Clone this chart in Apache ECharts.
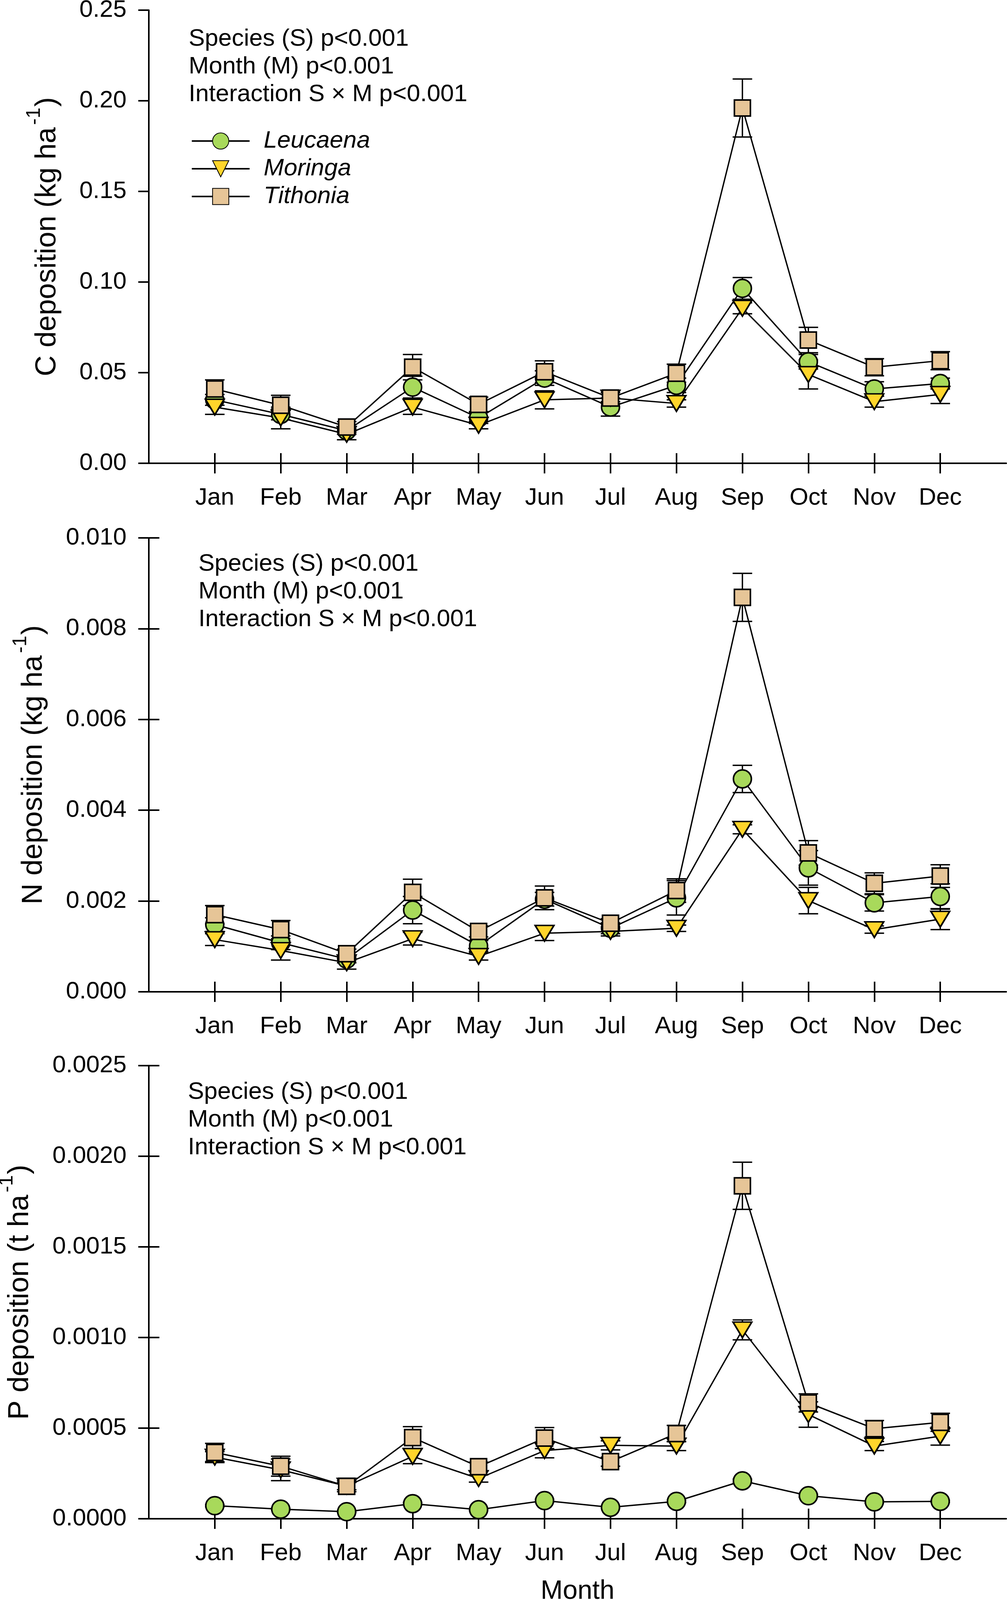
<!DOCTYPE html>
<html>
<head>
<meta charset="utf-8">
<script src="https://cdn.jsdelivr.net/npm/echarts@6/dist/echarts.min.js"></script>
<style>
html, body { margin: 0; padding: 0; background: #fff; }
#main { width: 2578px; height: 4124px; }
</style>
</head>
<body>
<div id="main"></div>
<script>
var months = ["Jan", "Feb", "Mar", "Apr", "May", "Jun", "Jul", "Aug", "Sep", "Oct", "Nov", "Dec"];
var speciesNames = ["Leucaena", "Moringa", "Tithonia"];
var notes = ["Species (S) p<0.001", "Month (M) p<0.001", "Interaction S \u00d7 M p<0.001"];

// C deposition (kg ha-1)
var cLeucaena   = [0.035, 0.027, 0.018, 0.042, 0.025, 0.047, 0.031, 0.043, 0.0965, 0.056, 0.041, 0.044];
var cLeucaenaSe = [0.003, 0.003, 0.002, 0.006, 0.003, 0.004, 0.005, 0.004, 0.006, 0.004, 0.004, 0.003];
var cMoringa    = [0.031, 0.025, 0.016, 0.031, 0.021, 0.035, 0.036, 0.033, 0.0855, 0.049, 0.034, 0.038];
var cMoringaSe  = [0.004, 0.006, 0.003, 0.004, 0.002, 0.005, 0.002, 0.002, 0.003, 0.008, 0.003, 0.005];
var cTithonia   = [0.041, 0.032, 0.020, 0.053, 0.0325, 0.0505, 0.036, 0.0497, 0.196, 0.068, 0.053, 0.0566];
var cTithoniaSe = [0.005, 0.0055, 0.003, 0.007, 0.004, 0.006, 0.003, 0.005, 0.016, 0.007, 0.0047, 0.005];

// N deposition (kg ha-1)
var nLeucaena   = [0.00148, 0.00108, 0.00072, 0.00180, 0.00101, 0.00204, 0.00140, 0.00207, 0.00469, 0.00273, 0.00196, 0.00210];
var nLeucaenaSe = [0.00015, 0.00015, 0.00008, 0.00030, 0.00012, 0.00015, 0.00012, 0.00038, 0.00030, 0.00038, 0.00018, 0.00028];
var nMoringa    = [0.00115, 0.00091, 0.00064, 0.00117, 0.00078, 0.00129, 0.00133, 0.00140, 0.00358, 0.00201, 0.00137, 0.00160];
var nMoringaSe  = [0.00013, 0.00021, 0.00014, 0.00014, 0.00008, 0.00016, 0.00010, 0.00007, 0.00010, 0.00029, 0.00008, 0.00023];
var nTithonia   = [0.00170, 0.00137, 0.00084, 0.00219, 0.00133, 0.00207, 0.00151, 0.00223, 0.00869, 0.00306, 0.00239, 0.00255];
var nTithoniaSe = [0.00020, 0.00020, 0.00010, 0.00029, 0.00012, 0.00026, 0.00010, 0.00026, 0.00053, 0.00027, 0.00023, 0.00025];

// P deposition (t ha-1)
var pLeucaena   = [0.000072, 0.000053, 0.000039, 0.000083, 0.000050, 0.000100, 0.000063, 0.000096, 0.000209, 0.000127, 0.000093, 0.000096];
var pLeucaenaSe = [0.000006, 0.000005, 0.000004, 0.000007, 0.000005, 0.000008, 0.000005, 0.000007, 0.000010, 0.000008, 0.000006, 0.000006];
var pMoringa    = [0.000340, 0.000270, 0.000180, 0.000344, 0.000222, 0.000376, 0.000405, 0.000401, 0.001042, 0.000575, 0.000401, 0.000456];
var pMoringaSe  = [0.000030, 0.000060, 0.000020, 0.000040, 0.000020, 0.000040, 0.000025, 0.000025, 0.000055, 0.000070, 0.000025, 0.000050];
var pTithonia   = [0.000366, 0.000290, 0.000179, 0.000448, 0.000287, 0.000445, 0.000315, 0.000470, 0.001837, 0.000639, 0.000497, 0.000532];
var pTithoniaSe = [0.000050, 0.000055, 0.000030, 0.000060, 0.000025, 0.000058, 0.000025, 0.000045, 0.000130, 0.000050, 0.000045, 0.000050];

var FONT = "'Liberation Sans', Arial, sans-serif";
var BLACK = "#000";

// one empty slot on each side of the months, like the original x range 0..13
var cats = [" "].concat(months).concat(["  "]);
function isMonth(i) { return i > 0 && i < cats.length - 1; }

var styles = [
  { symbol: "circle",   size: 46,       rotate: 0,   color: "#a8d95b" },
  { symbol: "triangle", size: [48, 40], rotate: 180, color: "#ffd52b" },
  { symbol: "rect",     size: 41,       rotate: 0,   color: "#e6c597" }
];

var panels = [
  { name: "{a|C deposition (kg ha}{s|-1}{a|)}", max: 0.25, interval: 0.05, dec: 2,
    top: 26, height: 1160, nameGap: 222, innerTicks: false, note: [483, 64],
    means: [cLeucaena, cMoringa, cTithonia], ses: [cLeucaenaSe, cMoringaSe, cTithoniaSe] },
  { name: "{a|N deposition (kg ha}{s|-1}{a|)}", max: 0.010, interval: 0.002, dec: 3,
    top: 1377, height: 1162, nameGap: 257, innerTicks: true, note: [508, 1408],
    means: [nLeucaena, nMoringa, nTithonia], ses: [nLeucaenaSe, nMoringaSe, nTithoniaSe] },
  { name: "{a|P deposition (t ha}{s|-1}{a|)}", max: 0.0025, interval: 0.0005, dec: 4,
    top: 2728, height: 1160, nameGap: 292, innerTicks: true, note: [481, 2760],
    means: [pLeucaena, pMoringa, pTithonia], ses: [pLeucaenaSe, pMoringaSe, pTithoniaSe] }
];

function errorBars(params, api) {
  var x = api.value(0), m = api.value(1), se = api.value(2);
  var hi = api.coord([x, m + se]);
  var lo = api.coord([x, m - se]);
  var hw = 25;
  var st = { stroke: BLACK, lineWidth: 3.5 };
  return {
    type: "group",
    children: [
      { type: "line", shape: { x1: hi[0], y1: hi[1], x2: lo[0], y2: lo[1] }, style: st },
      { type: "line", shape: { x1: hi[0] - hw, y1: hi[1], x2: hi[0] + hw, y2: hi[1] }, style: st },
      { type: "line", shape: { x1: lo[0] - hw, y1: lo[1], x2: lo[0] + hw, y2: lo[1] }, style: st }
    ]
  };
}

var grids = [], xAxes = [], yAxes = [], series = [], titles = [];

panels.forEach(function (p, gi) {
  grids.push({ left: 381, right: 2, top: p.top, height: p.height, outerBoundsMode: "none", containLabel: false });

  var xMain = xAxes.length;
  xAxes.push({
    gridIndex: gi, type: "category", position: "bottom", data: cats, boundaryGap: false,
    axisLine: { lineStyle: { color: BLACK, width: 4 } },
    axisTick: { length: 26, interval: isMonth, lineStyle: { color: BLACK, width: 4 } },
    axisLabel: { interval: isMonth, margin: 58, fontSize: 62, color: BLACK, fontFamily: FONT },
    splitLine: { show: false },
    name: gi === 2 ? "Month" : "", nameLocation: "middle", nameGap: 152,
    nameTextStyle: { fontSize: 68, color: BLACK, fontFamily: FONT }
  });
  // second x axis only for the ticks that cross into the plot
  xAxes.push({
    gridIndex: gi, type: "category", position: "bottom", data: cats, boundaryGap: false,
    axisLine: { show: false },
    axisTick: { inside: true, length: 26, interval: isMonth, lineStyle: { color: BLACK, width: 4 } },
    axisLabel: { show: false }, splitLine: { show: false }
  });

  var yMain = yAxes.length;
  yAxes.push({
    gridIndex: gi, type: "value", position: "left", min: 0, max: p.max, interval: p.interval,
    axisLine: { show: true, lineStyle: { color: BLACK, width: 4 } },
    axisTick: { show: true, length: 27, lineStyle: { color: BLACK, width: 4 } },
    axisLabel: { margin: 57, fontSize: 62, color: BLACK, fontFamily: FONT,
      formatter: function (v) { return v.toFixed(p.dec); } },
    splitLine: { show: false },
    name: p.name, nameLocation: "middle", nameGap: p.nameGap, nameRotate: 90,
    nameTextStyle: { rich: {
      a: { fontSize: 74, color: BLACK, fontFamily: FONT, padding: [22, 0, 0, 0] },
      s: { fontSize: 50, color: BLACK, fontFamily: FONT, verticalAlign: "top", padding: [0, 2, 0, 6] }
    } }
  });
  if (p.innerTicks) {
    yAxes.push({
      gridIndex: gi, type: "value", position: "left", min: 0, max: p.max, interval: p.interval,
      axisLine: { show: false },
      axisTick: { show: true, inside: true, length: 27, lineStyle: { color: BLACK, width: 4 } },
      axisLabel: { show: false }, splitLine: { show: false }
    });
  }

  titles.push({
    text: notes.join("\n"), left: p.note[0], top: p.note[1], padding: 0,
    textStyle: { fontSize: 62, lineHeight: 71, fontWeight: "normal", color: BLACK, fontFamily: FONT }
  });

  speciesNames.forEach(function (name, si) {
    var st = styles[si];
    var means = p.means[si], ses = p.ses[si];
    series.push({
      type: "custom", name: name + " SE", xAxisIndex: xMain, yAxisIndex: yMain,
      renderItem: errorBars, encode: { x: 0, y: 1 }, silent: true,
      data: means.map(function (v, i) { return [months[i], v, ses[i]]; })
    });
    series.push({
      type: "line", name: name, xAxisIndex: xMain, yAxisIndex: yMain,
      symbol: st.symbol, symbolSize: st.size, symbolRotate: st.rotate,
      lineStyle: { color: BLACK, width: 3.5 },
      itemStyle: { color: st.color, borderColor: BLACK, borderWidth: 4, opacity: 1 },
      data: means.map(function (v, i) { return [months[i], v]; })
    });
  });
});

var chart = echarts.init(document.getElementById("main"));
chart.setOption({
  animation: false,
  backgroundColor: "#fff",
  title: titles,
  legend: {
    data: speciesNames, orient: "vertical", left: 489, top: 330,
    itemWidth: 148, itemHeight: 52, itemGap: 9, padding: 0,
    lineStyle: { color: BLACK, width: 4 },
    textStyle: { fontSize: 62, fontStyle: "italic", color: BLACK, fontFamily: FONT, padding: [0, 0, 0, 31] }
  },
  grid: grids,
  xAxis: xAxes,
  yAxis: yAxes,
  series: series
});
</script>
</body>
</html>
